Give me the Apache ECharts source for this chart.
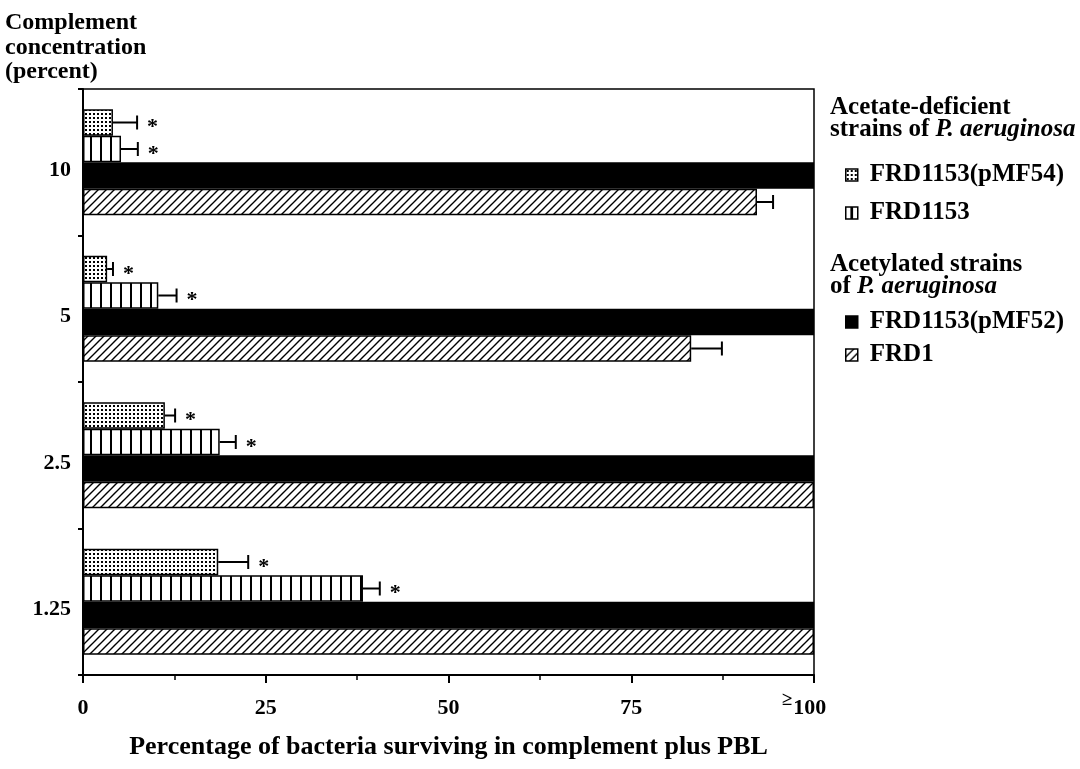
<!DOCTYPE html>
<html>
<head>
<meta charset="utf-8">
<script src="https://cdn.jsdelivr.net/npm/echarts@6/dist/echarts.min.js"></script>
<style>
  html, body { margin: 0; padding: 0; background: #fff; }
  #chart { width: 1080px; height: 769px; }
</style>
</head>
<body>
<div id="chart"></div>
<script>
// Complement concentration (percent), top to bottom
const concentrations = ['10', '5', '2.5', '1.25'];
const seriesNames = ['FRD1153(pMF54)', 'FRD1153', 'FRD1153(pMF52)', 'FRD1'];

// Percentage of bacteria surviving, per strain, per concentration
const survivalPMF54 = [4.1, 3.3, 11.2, 18.5];
const errorPMF54 = [3.3, 0.8, 1.4, 4.1];
const survivalFRD1153 = [5.2, 10.3, 18.7, 38.3];
const errorFRD1153 = [2.3, 2.5, 2.2, 2.3];
const survivalPMF52 = [100, 100, 100, 100];
const errorPMF52 = [null, null, null, null];
const survivalFRD1 = [92.2, 83.2, 100, 100];
const errorFRD1 = [2.2, 4.2, null, null];
// strains marked with an asterisk (significant difference)
const significant = [true, true, false, false];

const FONT = 'Liberation Serif';
const BAR_W = 26.5;

function makePattern(kind) {
  const c = document.createElement('canvas');
  const ctx = c.getContext('2d');
  if (kind === 'dots') {
    c.width = 4; c.height = 4;
    ctx.fillStyle = '#fff'; ctx.fillRect(0, 0, 4, 4);
    ctx.fillStyle = '#000'; ctx.fillRect(1, 1, 2, 2);
  } else if (kind === 'vlines') {
    c.width = 10; c.height = 4;
    ctx.fillStyle = '#fff'; ctx.fillRect(0, 0, 10, 4);
    ctx.fillStyle = '#000'; ctx.fillRect(0, 0, 2, 4);
  } else if (kind === 'hatch') {
    c.width = 8; c.height = 8;
    ctx.fillStyle = '#fff'; ctx.fillRect(0, 0, 8, 8);
    ctx.strokeStyle = '#000'; ctx.lineWidth = 1.4;
    ctx.beginPath();
    ctx.moveTo(-1, 9); ctx.lineTo(9, -1);
    ctx.moveTo(-1, 1); ctx.lineTo(1, -1);
    ctx.moveTo(7, 9); ctx.lineTo(9, 7);
    ctx.stroke();
  }
  return { image: c, repeat: 'repeat' };
}

const fills = [makePattern('dots'), makePattern('vlines'), '#000', makePattern('hatch')];
const values = [survivalPMF54, survivalFRD1153, survivalPMF52, survivalFRD1];
const errors = [errorPMF54, errorFRD1153, errorPMF52, errorFRD1];

// error bar items: [mean, category index, mean + error, series index, asterisk]
const errorItems = [];
values.forEach((vals, s) => {
  vals.forEach((v, c) => {
    const e = errors[s][c];
    if (e != null) errorItems.push([v, c, v + e, s, significant[s] ? 1 : 0]);
  });
});

const chart = echarts.init(document.getElementById('chart'), null, { renderer: 'canvas' });

const barSeries = seriesNames.map((name, i) => ({
  type: 'bar',
  name: name,
  data: values[i],
  barWidth: BAR_W,
  barGap: '0%',
  itemStyle: { color: fills[i], borderColor: '#000', borderWidth: 1.5 },
  emphasis: { disabled: true },
  z: 2
}));

const errorSeries = {
  type: 'custom',
  name: 'error',
  data: errorItems,
  encode: { x: [0, 2], y: 1 },
  z: 3,
  silent: true,
  renderItem: function (params, api) {
    const mean = api.value(0), cat = api.value(1), upper = api.value(2);
    const s = api.value(3), star = api.value(4);
    const p0 = api.coord([mean, cat]);
    const p1 = api.coord([upper, cat]);
    const y = p0[1] + (s - 1.5) * BAR_W;
    const children = [
      { type: 'line', shape: { x1: p0[0], y1: y, x2: p1[0], y2: y }, style: { stroke: '#000', lineWidth: 2 } },
      { type: 'line', shape: { x1: p1[0], y1: y - 7, x2: p1[0], y2: y + 7 }, style: { stroke: '#000', lineWidth: 2 } }
    ];
    if (star) {
      children.push({
        type: 'text',
        style: { text: '*', x: p1[0] + 10, y: y + 5, fill: '#000', font: 'bold 22px ' + FONT, verticalAlign: 'middle', align: 'left' }
      });
    }
    return { type: 'group', children: children };
  }
};

const legendText = { fontFamily: FONT, fontWeight: 'bold', fontSize: 25, color: '#000', lineHeight: 26, padding: [0, 0, 0, 7] };
// square with a divider down the middle, for the striped strain
const splitSquare = 'path://M0,0H12V12H0Z M5.4,0H6.6V12H5.4Z';

const option = {
  backgroundColor: '#fff',
  animation: false,
  grid: { left: 83, right: 266, top: 89, bottom: 94, show: true, borderColor: '#000', borderWidth: 1.5, backgroundColor: 'transparent' },
  xAxis: {
    type: 'value', min: 0, max: 100, interval: 25,
    name: 'Percentage of bacteria surviving in complement plus PBL',
    nameLocation: 'middle', nameGap: 59,
    nameTextStyle: { fontFamily: FONT, fontWeight: 'bold', fontSize: 26, color: '#000' },
    axisLine: { show: true, lineStyle: { color: '#000', width: 2 } },
    axisTick: { show: true, inside: false, length: 8, lineStyle: { color: '#000', width: 2 } },
    minorTick: { show: true, splitNumber: 2, length: 5, lineStyle: { color: '#000', width: 1.5 } },
    splitLine: { show: false },
    axisLabel: {
      show: true, margin: 19, color: '#000',
      fontFamily: FONT, fontWeight: 'bold', fontSize: 22,
      // the last tick is open-ended: "≥ 100", with a raised ≥ sign
      formatter: function (v) { return v === 100 ? '{ge|≥}{m|100}' : '{n|' + v + '}'; },
      rich: {
        n: { fontFamily: FONT, fontWeight: 'bold', fontSize: 22, lineHeight: 22, color: '#000', padding: [7, 0, 0, 0] },
        m: { fontFamily: FONT, fontWeight: 'bold', fontSize: 22, lineHeight: 22, color: '#000', padding: [7, 20, 0, 0] },
        ge: { fontFamily: FONT, fontSize: 19, lineHeight: 19, color: '#000', padding: [0, 1, 10, 0] }
      }
    }
  },
  yAxis: {
    type: 'category', data: concentrations, inverse: true,
    axisLine: { show: true, lineStyle: { color: '#000', width: 2 } },
    axisTick: { show: true, inside: false, length: 5, lineStyle: { color: '#000', width: 2 } },
    axisLabel: {
      show: true, margin: 12, color: '#000', fontFamily: FONT, fontWeight: 'bold', fontSize: 22,
      verticalAlign: 'top', lineHeight: 16
    },
    splitLine: { show: false }
  },
  legend: [
    {
      data: ['FRD1153(pMF54)', { name: 'FRD1153', icon: splitSquare, itemStyle: { color: '#fff' } }],
      orient: 'vertical', left: 840, top: 157,
      icon: 'rect', itemWidth: 12, itemHeight: 12, itemGap: 12, selectedMode: false,
      itemStyle: { borderColor: '#000', borderWidth: 1.5 },
      textStyle: legendText
    },
    {
      data: ['FRD1153(pMF52)', 'FRD1'],
      orient: 'vertical', left: 840, top: 304,
      icon: 'rect', itemWidth: 12, itemHeight: 12, itemGap: 7, selectedMode: false,
      itemStyle: { borderColor: '#000', borderWidth: 1.5 },
      textStyle: legendText
    }
  ],
  graphic: [
    {
      type: 'text', left: 5, top: 11,
      style: { text: 'Complement\nconcentration\n(percent)', font: 'bold 24px ' + FONT, lineHeight: 24.5, fill: '#000' }
    },
    {
      type: 'text', left: 830, top: 95,
      style: {
        text: 'Acetate-deficient\nstrains of {i|P. aeruginosa}', font: 'bold 25px ' + FONT, lineHeight: 22, fill: '#000',
        rich: { i: { fontFamily: FONT, fontWeight: 'bold', fontStyle: 'italic', fontSize: 25, lineHeight: 22, fill: '#000' } }
      }
    },
    {
      type: 'text', left: 830, top: 252,
      style: {
        text: 'Acetylated strains\nof {i|P. aeruginosa}', font: 'bold 25px ' + FONT, lineHeight: 22, fill: '#000',
        rich: { i: { fontFamily: FONT, fontWeight: 'bold', fontStyle: 'italic', fontSize: 25, lineHeight: 22, fill: '#000' } }
      }
    }
  ],
  series: barSeries.concat([errorSeries])
};

chart.setOption(option);
</script>
</body>
</html>
